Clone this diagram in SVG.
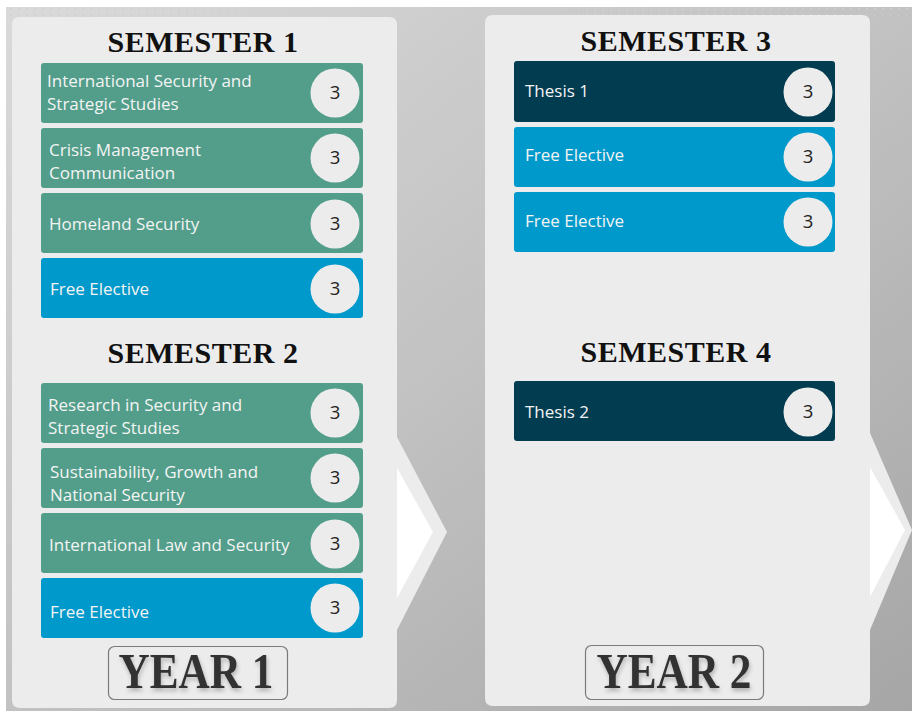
<svg xmlns="http://www.w3.org/2000/svg" width="912" height="711" viewBox="0 0 912 711">
<defs>
<linearGradient id="bg" x1="0" y1="0" x2="1" y2="1">
<stop offset="0" stop-color="#dadada"/>
<stop offset="0.5" stop-color="#c2c2c2"/>
<stop offset="1" stop-color="#a6a6a6"/>
</linearGradient>
<pattern id="dots" x="0" y="0" width="8" height="6" patternUnits="userSpaceOnUse">
<rect x="2" y="2" width="2" height="2" fill="#cfcfcf"/>
</pattern>
<filter id="sh" x="-10%" y="-10%" width="120%" height="130%">
<feGaussianBlur in="SourceAlpha" stdDeviation="2"/>
<feOffset dx="1" dy="3" result="b"/>
<feComponentTransfer><feFuncA type="linear" slope="0.25"/></feComponentTransfer>
<feMerge><feMergeNode/><feMergeNode in="SourceGraphic"/></feMerge>
</filter>
<style>
.panel{fill:#ececec}
.tri{fill:#ffffff}
.teal{fill:#529e8a}
.blue{fill:#0099cb}
.navy{fill:#013c50}
.circ{fill:#ececec}
.lbl{font-family:"Open Sans","Noto Sans",sans-serif;font-size:17px;fill:#f4f4f4}
.num{font-family:"Open Sans","Noto Sans",sans-serif;font-size:18.5px;fill:#222;text-anchor:middle}
.sem{font-family:"Liberation Serif",serif;font-weight:bold;font-size:30px;fill:#111;text-anchor:middle;letter-spacing:0.5px}
.year{font-family:"Liberation Serif",serif;font-weight:bold;font-size:50px;fill:#333;text-anchor:middle}
.ybox{fill:none;stroke:#7a7a7a;stroke-width:1.2}
</style>
</defs>
<rect width="912" height="711" fill="url(#bg)"/>
<rect x="0" y="0" width="912" height="7" fill="#ffffff"/>
<rect x="0" y="0" width="6" height="711" fill="#ffffff"/>
<rect x="6" y="7" width="906" height="8" fill="url(#dots)" opacity="0.8"/>

<g id="year1-panel">
<path class="panel" d="M20,17 H389 Q397,17 397,25 V437 L447,532 L397,630 V700 Q397,708 389,708 H20 Q12,708 12,700 V25 Q12,17 20,17 Z"/>
<path class="tri" d="M397,468 L433,532 L397,598 Z"/>
</g>
<g id="year2-panel">
<path class="panel" d="M493,15 H862 Q870,15 870,23 V433 L912,530 L870,630 V698 Q870,706 862,706 H493 Q485,706 485,698 V23 Q485,15 493,15 Z"/>
<path class="tri" d="M870,467 L905,530 L870,597 Z"/>
</g>

<g id="semester1-title"><text class="sem" x="203" y="52">SEMESTER 1</text></g>
<g id="semester2-title"><text class="sem" x="203" y="363">SEMESTER 2</text></g>
<g id="semester3-title"><text class="sem" x="676" y="51">SEMESTER 3</text></g>
<g id="semester4-title"><text class="sem" x="676" y="362">SEMESTER 4</text></g>

<g id="s1-c1"><rect class="teal" x="41" y="63" width="322" height="60" rx="3"/><text class="lbl" x="47" y="87">International Security and</text><text class="lbl" x="47" y="110">Strategic Studies</text><circle class="circ" cx="335" cy="93" r="24.5"/><text class="num" x="335" y="99">3</text></g>
<g id="s1-c2"><rect class="teal" x="41" y="128" width="322" height="60" rx="3"/><text class="lbl" x="49" y="156">Crisis Management</text><text class="lbl" x="49" y="179">Communication</text><circle class="circ" cx="335" cy="158" r="24.5"/><text class="num" x="335" y="164">3</text></g>
<g id="s1-c3"><rect class="teal" x="41" y="193" width="322" height="60" rx="3"/><text class="lbl" x="49" y="230">Homeland Security</text><circle class="circ" cx="335" cy="224" r="24.5"/><text class="num" x="335" y="230">3</text></g>
<g id="s1-c4"><rect class="blue" x="41" y="258" width="322" height="60" rx="3"/><text class="lbl" x="50" y="295">Free Elective</text><circle class="circ" cx="335" cy="289" r="24.5"/><text class="num" x="335" y="295">3</text></g>

<g id="s2-c1"><rect class="teal" x="41" y="383" width="322" height="60" rx="3"/><text class="lbl" x="48" y="411">Research in Security and</text><text class="lbl" x="48" y="434">Strategic Studies</text><circle class="circ" cx="335" cy="413" r="24.5"/><text class="num" x="335" y="419">3</text></g>
<g id="s2-c2"><rect class="teal" x="41" y="448" width="322" height="60" rx="3"/><text class="lbl" x="50" y="478">Sustainability, Growth and</text><text class="lbl" x="50" y="501">National Security</text><circle class="circ" cx="335" cy="478" r="24.5"/><text class="num" x="335" y="484">3</text></g>
<g id="s2-c3"><rect class="teal" x="41" y="513" width="322" height="60" rx="3"/><text class="lbl" x="49" y="551">International Law and Security</text><circle class="circ" cx="335" cy="544" r="24.5"/><text class="num" x="335" y="550">3</text></g>
<g id="s2-c4"><rect class="blue" x="41" y="578" width="322" height="60" rx="3"/><text class="lbl" x="50" y="618">Free Elective</text><circle class="circ" cx="335" cy="608" r="24.5"/><text class="num" x="335" y="614">3</text></g>

<g id="s3-c1"><rect class="navy" x="514" y="61" width="321" height="61" rx="3"/><text class="lbl" x="525" y="97">Thesis 1</text><circle class="circ" cx="808" cy="92" r="24.5"/><text class="num" x="808" y="98">3</text></g>
<g id="s3-c2"><rect class="blue" x="514" y="127" width="321" height="60" rx="3"/><text class="lbl" x="525" y="161">Free Elective</text><circle class="circ" cx="808" cy="157" r="24.5"/><text class="num" x="808" y="163">3</text></g>
<g id="s3-c3"><rect class="blue" x="514" y="192" width="321" height="60" rx="3"/><text class="lbl" x="525" y="227">Free Elective</text><circle class="circ" cx="808" cy="222" r="24.5"/><text class="num" x="808" y="228">3</text></g>

<g id="s4-c1"><rect class="navy" x="514" y="381" width="321" height="60" rx="3"/><text class="lbl" x="525" y="418">Thesis 2</text><circle class="circ" cx="808" cy="412" r="24.5"/><text class="num" x="808" y="418">3</text></g>

<g id="year1-label"><rect class="ybox" x="108.5" y="646.5" width="179" height="53" rx="6"/><text class="year" x="196" y="688" textLength="155" lengthAdjust="spacingAndGlyphs" filter="url(#sh)">YEAR 1</text></g>
<g id="year2-label"><rect class="ybox" x="585.5" y="645.5" width="178" height="54" rx="6"/><text class="year" x="674" y="688" textLength="155" lengthAdjust="spacingAndGlyphs" filter="url(#sh)">YEAR 2</text></g>
</svg>
